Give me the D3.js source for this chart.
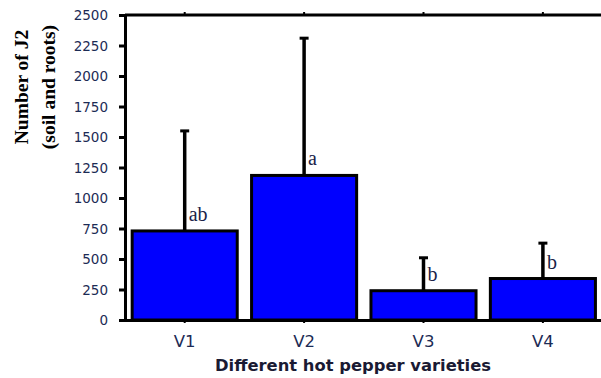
<!DOCTYPE html>
<html>
<head>
<meta charset="utf-8">
<script src="https://cdn.jsdelivr.net/npm/d3@7"></script>
<style>
  html, body { margin: 0; padding: 0; background: #fff; }
  svg { display: block; }
</style>
</head>
<body>
<svg id="chart" width="601" height="378"></svg>
<script>
// J2 counts per hot pepper variety, with upper error bars and significance letters
const varieties = ["V1", "V2", "V3", "V4"];
const meanJ2 = [730, 1185, 240, 340];
const upperJ2 = [1550, 2310, 510, 630];
const sigLetters = ["ab", "a", "b", "b"];
const yTicks = [0, 250, 500, 750, 1000, 1250, 1500, 1750, 2000, 2250, 2500];

const svg = d3.select("#chart");
const plotLeft = 125, plotRight = 602.6, plotTop = 15, plotBottom = 320;

const x = d3.scaleBand()
  .domain(varieties)
  .range([plotLeft, plotRight])
  .paddingInner(0.12)
  .paddingOuter(0.06);

const y = d3.scaleLinear().domain([0, 2500]).range([plotBottom, plotTop]);

const rows = varieties.map((v, i) => ({ v, mean: meanJ2[i], upper: upperJ2[i], letter: sigLetters[i] }));

// bars
svg.append("g").selectAll("rect").data(rows).join("rect")
  .attr("x", d => x(d.v))
  .attr("y", d => y(d.mean))
  .attr("width", x.bandwidth())
  .attr("height", d => y(0) - y(d.mean))
  .attr("fill", "#0000ff")
  .attr("stroke", "#000")
  .attr("stroke-width", 3);

// upper error bars
const eb = svg.append("g").attr("stroke", "#000").attr("fill", "none");
eb.selectAll("line.stem").data(rows).join("line")
  .attr("class", "stem")
  .attr("x1", d => x(d.v) + x.bandwidth() / 2)
  .attr("x2", d => x(d.v) + x.bandwidth() / 2)
  .attr("y1", d => y(d.mean))
  .attr("y2", d => y(d.upper))
  .attr("stroke-width", 3.5);
eb.selectAll("line.cap").data(rows).join("line")
  .attr("class", "cap")
  .attr("x1", d => x(d.v) + x.bandwidth() / 2 - 4.5)
  .attr("x2", d => x(d.v) + x.bandwidth() / 2 + 4.5)
  .attr("y1", d => y(d.upper))
  .attr("y2", d => y(d.upper))
  .attr("stroke-width", 3);

// significance letters
svg.append("g").selectAll("text").data(rows).join("text")
  .attr("x", d => x(d.v) + x.bandwidth() / 2 + 4)
  .attr("y", d => y(d.mean) - 10)
  .attr("font-family", "Liberation Serif, serif")
  .attr("font-size", 20)
  .attr("fill", "#1a2348")
  .text(d => d.letter);

// top frame line
svg.append("line")
  .attr("x1", plotLeft).attr("x2", 601)
  .attr("y1", plotTop).attr("y2", plotTop)
  .attr("stroke", "#000").attr("stroke-width", 3);

// y axis
const yAxis = svg.append("g")
  .attr("transform", `translate(${plotLeft},0)`)
  .call(d3.axisLeft(y).tickValues(yTicks).tickFormat(d3.format("d"))
    .tickSize(6).tickSizeOuter(0).tickPadding(11));
yAxis.select(".domain").attr("stroke", "#000").attr("stroke-width", 3);
yAxis.selectAll(".tick line").attr("stroke", "#000").attr("stroke-width", 3);
yAxis.selectAll(".tick text")
  .attr("font-family", "DejaVu Sans, sans-serif")
  .attr("font-size", 13.5)
  .attr("fill", "#1c2b55")
  .attr("dy", "0.36em");

// x axis
const xAxis = svg.append("g")
  .attr("transform", `translate(0,${plotBottom})`)
  .call(d3.axisBottom(x).tickSize(3).tickSizeOuter(0).tickPadding(12));
xAxis.select(".domain").attr("d", `M${plotLeft},0.5H601`).attr("stroke", "#000").attr("stroke-width", 3);
xAxis.selectAll(".tick line").attr("stroke", "#000").attr("stroke-width", 2);
xAxis.selectAll(".tick text")
  .attr("font-family", "DejaVu Sans, sans-serif")
  .attr("font-size", 16.5)
  .attr("fill", "#1c2b55");

// top ticks at category centres
svg.append("g").selectAll("line").data(varieties).join("line")
  .attr("x1", d => x(d) + x.bandwidth() / 2)
  .attr("x2", d => x(d) + x.bandwidth() / 2)
  .attr("y1", plotTop).attr("y2", plotTop - 3)
  .attr("stroke", "#000").attr("stroke-width", 2);

// x title
svg.append("text")
  .attr("x", 215).attr("y", 371)
  .attr("font-family", "DejaVu Sans, sans-serif")
  .attr("font-weight", "bold")
  .attr("font-size", 15)
  .attr("textLength", 276)
  .attr("lengthAdjust", "spacingAndGlyphs")
  .attr("fill", "#1a1a33")
  .text("Different hot pepper varieties");

// y title
const yt = svg.append("text")
  .attr("transform", "translate(28,87) rotate(-90)")
  .attr("text-anchor", "middle")
  .attr("font-family", "Liberation Serif, serif")
  .attr("font-weight", "bold")
  .attr("font-size", 19.5)
  .attr("fill", "#000");
yt.append("tspan").attr("x", 0).attr("y", 0).text("Number of J2");
yt.append("tspan").attr("x", 0).attr("y", 27).text("(soil and roots)");
</script>
</body>
</html>
